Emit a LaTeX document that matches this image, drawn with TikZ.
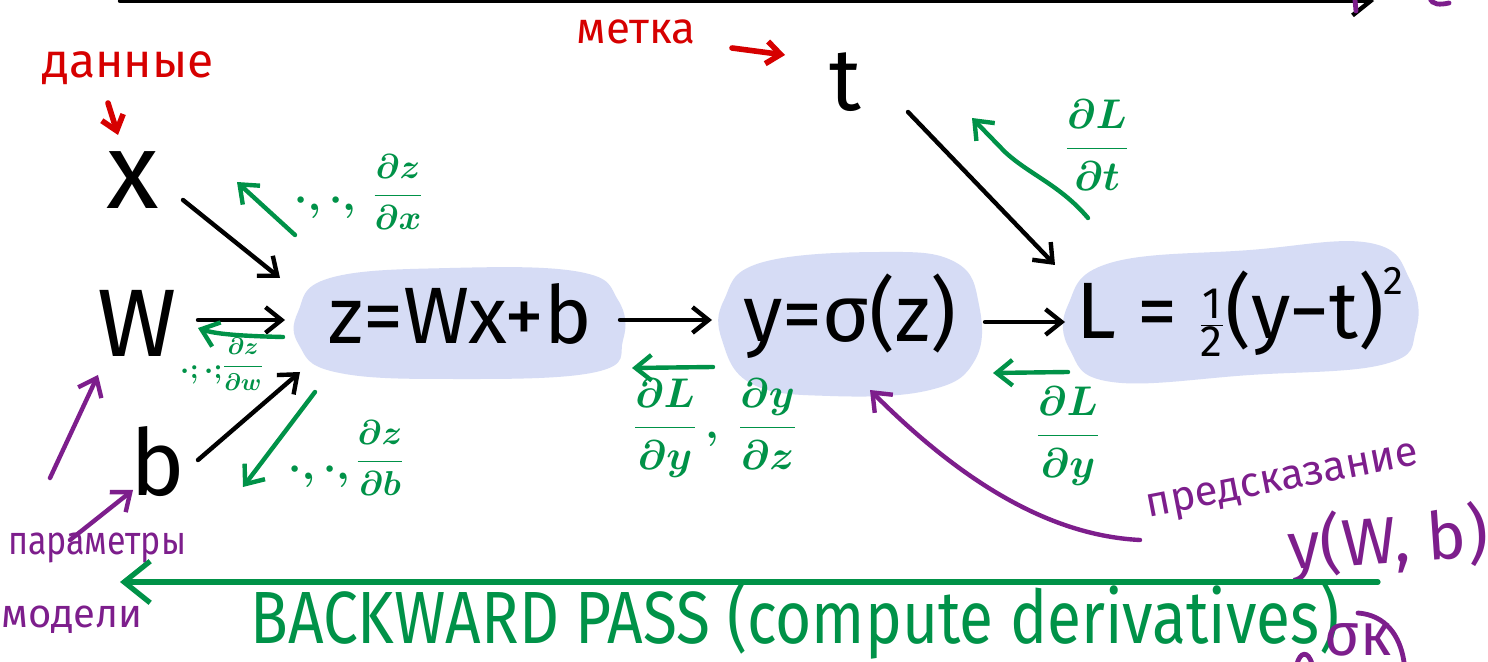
\documentclass[tikz,border=0pt]{standalone}
\usepackage{fontspec}
\setmainfont{Fira Sans}
\usetikzlibrary{arrows.meta}
\definecolor{gr}{RGB}{0,146,72}
\definecolor{rd}{RGB}{214,0,0}
\definecolor{pu}{RGB}{125,30,140}
\definecolor{bl}{RGB}{214,220,245}
\newcommand{\fs}[1]{\fontsize{#1}{#1}\selectfont}
\tikzset{
  barb/.style={-{Straight Barb[length=#1,width=1.6*#1]}},
  blk/.style={draw=black, line width=2.2pt, line cap=round, barb=8pt},
  grn/.style={draw=gr, line width=2.2pt, line cap=round, barb=8pt},
  red/.style={draw=rd, line width=2.8pt, line cap=round, barb=7pt},
  pur/.style={draw=pu, line width=2.2pt, line cap=round, barb=8pt},
  eq/.style={font=\fs{40}, inner sep=0pt},
  sym/.style={inner sep=0pt},
  glab/.style={text=gr, inner sep=0pt},
  rlab/.style={text=rd, inner sep=0pt},
  plab/.style={text=pu, inner sep=0pt}
}
\begin{document}
\begin{tikzpicture}[x=0.5pt,y=-0.5pt]
\useasboundingbox (0,0) rectangle (1488,662);
\clip (0,0) rectangle (1488,662);
\fill[white] (0,0) rectangle (1488,662);

% top partial line
\coordinate (top1) at (120,1);
\coordinate (top2) at (1374,1);
\draw[black, line width=2.2pt, line cap=round, barb=9pt] (top1) -- (top2);
\draw[pu, line width=2.4pt, line cap=round] (1355,0) -- (1356,11);
\draw[pu, line width=2.4pt, line cap=round] (1430,-2) .. controls (1432,5) and (1440,5) .. (1449,3);

% blobs
\fill[bl] plot[smooth cycle, tension=0.7] coordinates {(298,312) (330,278) (450,268) (580,272) (618,300) (623,340) (596,372) (450,379) (335,372) (299,345)};
\fill[bl] plot[smooth cycle, tension=0.7] coordinates {(724,300) (760,263) (880,252) (955,262) (979,305) (975,360) (930,390) (830,396) (752,384) (722,340)};
\fill[bl] plot[smooth cycle, tension=0.7] coordinates {(1068,305) (1110,263) (1250,250) (1370,243) (1410,280) (1416,330) (1385,364) (1250,375) (1112,382) (1070,350)};

% main nodes
\node[eq] (zeq) at (460,314) {z=Wx+b};
\node[eq] (yeq) at (850,316) {y=σ(z)};
\node[eq] (Leq) at (1240,312) {L = $\frac{\mbox{\scalebox{.55}{1}}}{\mbox{\scalebox{.55}{2}}}$(y−t)\raisebox{.55em}{\scalebox{.5}{2}}};

\node[sym, font=\fs{54}] (x) at (133,180) {x};
\node[sym, font=\fs{48}] (W) at (137,323) {W};
\node[sym, font=\fs{46}] (b) at (158,462) {b};
\node[sym, font=\fs{44}] (t) at (845,82) {t};

% red labels
\node[rlab, font=\fs{24}] (dannye) at (128,68) {данные};
\node[rlab, font=\fs{22}] (metka) at (636,32) {метка};
\coordinate (d1) at (108,103); \coordinate (d2) at (118,135);
\draw[red] (d1) -- (d2);
\coordinate (m1) at (732,48); \coordinate (m2) at (785,55);
\draw[red] (m1) -- (m2);

% black arrows
\coordinate (xa) at (183,200); \coordinate (xb) at (280,278);
\coordinate (wa) at (198,320); \coordinate (wb) at (285,320);
\coordinate (ba) at (198,460); \coordinate (bb) at (300,372);
\coordinate (za) at (620,320); \coordinate (zb) at (712,320);
\coordinate (ya) at (985,322); \coordinate (yb) at (1065,322);
\coordinate (ta) at (908,112); \coordinate (tb) at (1055,265);
\draw[blk] (xa) -- (xb);
\draw[blk] (wa) -- (wb);
\draw[blk] (ba) -- (bb);
\draw[blk] (za) -- (zb);
\draw[blk] (ya) -- (yb);
\draw[blk] (ta) -- (tb);

% green arrows
\coordinate (gx1) at (295,235); \coordinate (gx2) at (237,182);
\coordinate (gw1) at (283,337); \coordinate (gw2) at (198,328);
\coordinate (gb1) at (315,392); \coordinate (gb2) at (243,487);
\coordinate (gy1) at (713,367); \coordinate (gy2) at (632,368);
\coordinate (gL1) at (1068,372); \coordinate (gL2) at (993,373);
\coordinate (gt1) at (1088,218); \coordinate (gt2) at (972,118);
\draw[grn] (gx1) -- (gx2);
\draw[grn] (gw1) .. controls (240,336) and (215,334) .. (gw2);
\draw[grn] (gb1) -- (gb2);
\draw[grn] (gy1) -- (gy2);
\draw[grn] (gL1) -- (gL2);
\draw[grn] (gt1) .. controls (1060,185) and (1030,175) .. (1005,152) -- (gt2);

% green labels
\node[glab, font=\fs{18}\boldmath] (dzdx) at (398,192) {$\displaystyle\frac{\partial z}{\partial x}$};
\node[glab, font=\fs{22}\boldmath, anchor=east] (dots1) at (356,205) {$\cdot,\cdot,$};
\node[glab, font=\fs{13}\boldmath] (dzdw) at (243,364) {$\displaystyle\frac{\partial z}{\partial w}$};
\node[glab, font=\fs{15}\boldmath, anchor=east] (dots2) at (223,374) {$\cdot;\cdot;$};
\node[glab, font=\fs{18}\boldmath] (dzdb) at (380,458) {$\displaystyle\frac{\partial z}{\partial b}$};
\node[glab, font=\fs{22}\boldmath, anchor=east] (dots3) at (350,474) {$\cdot,\cdot,$};
\node[glab, font=\fs{21}\boldmath] (dLdy1) at (715,428) {$\displaystyle\frac{\partial L}{\partial y}\,,\ \frac{\partial y}{\partial z}$};
\node[glab, font=\fs{21}\boldmath] (dLdy2) at (1068,436) {$\displaystyle\frac{\partial L}{\partial y}$};
\node[glab, font=\fs{21}\boldmath] (dLdt) at (1097,145) {$\displaystyle\frac{\partial L}{\partial t}$};

% purple
\coordinate (p1a) at (50,478); \coordinate (p1b) at (98,375);
\coordinate (p2a) at (70,540); \coordinate (p2b) at (133,490);
\draw[pur] (p1a) -- (p1b);
\draw[pur] (p2a) -- (p2b);
\node[plab, font=\fs{20}] (param) at (97,548) {\scalebox{.85}[1]{параметры}};
\node[plab, font=\fs{20}] (model) at (72,620) {модели};
\node[plab, font=\fs{21}, rotate=11] (pred) at (1283,484) {предсказание};
\node[plab, font=\fs{33}, rotate=4] (ywb) at (1388,542) {y(W, b)};
\coordinate (pc1) at (1140,540); \coordinate (pc2) at (870,390);
\draw[pur] (pc1) .. controls (1040,535) and (950,470) .. (pc2);

% backward pass
\coordinate (bp1) at (1378,582); \coordinate (bp2) at (120,582);
\draw[draw=gr, line width=2.6pt, line cap=round, barb=13pt] (bp1) -- (bp2);
\node[glab, font=\fs{37}] (bwd) at (795,620) {\scalebox{.84}[1]{BACKWARD PASS (compute derivatives)}};

% bottom-right purple fragment
\node[plab, font=\fs{30}] (frag) at (1358,640) {σк};
\draw[pu, line width=2.4pt, line cap=round] (1358,613) .. controls (1385,615) and (1400,635) .. (1404,662);
\draw[pu, line width=2.4pt, line cap=round] (1297,664) .. controls (1300,652) and (1308,650) .. (1312,664);
\end{tikzpicture}
\end{document}
